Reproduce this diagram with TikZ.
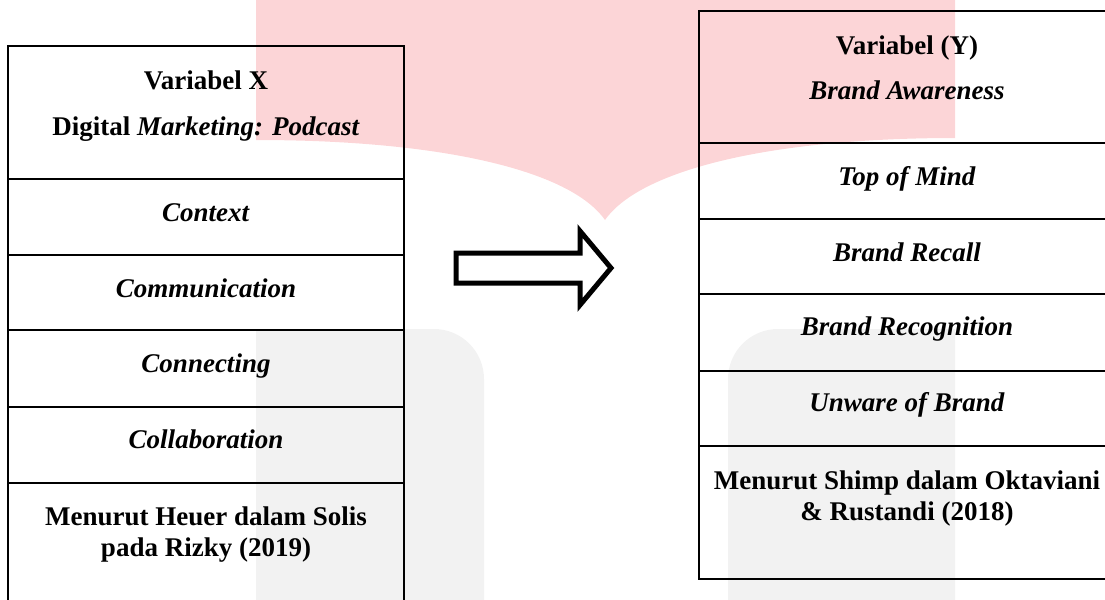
\documentclass[tikz,border=0pt]{standalone}
\usepackage{fontspec}
\setmainfont{Liberation Serif}
\usetikzlibrary{fit}
\definecolor{wmpink}{RGB}{252,213,215}
\definecolor{wmgray}{RGB}{242,242,242}
\begin{document}
\begin{tikzpicture}[x=0.5pt,y=-0.5pt,
  cell/.style={draw, line width=1pt, inner sep=0pt, outer sep=0pt, rectangle},
  tx/.style={font=\fontsize{13.5}{15.5}\selectfont\bfseries, inner sep=0pt, anchor=base, align=center},
  blockarrow/.style={draw, line width=2.5pt, line join=miter}]
\useasboundingbox (0,0) rectangle (1105,600);
\clip (0,0) rectangle (1105,600);
% watermark
\fill[wmpink] (256,0) -- (955,0) -- (955,138) .. controls (770,138) and (640,170) .. (605,220) .. controls (570,170) and (440,140) .. (256,140) -- cycle;
\fill[wmgray] (256,610) -- (256,329) -- (434,329) .. controls (461.6,329) and (484,351.4) .. (484,379) -- (484,610) -- cycle;
\fill[wmgray] (955,610) -- (955,329) -- (778,329) .. controls (750.4,329) and (728,351.4) .. (728,379) -- (728,610) -- cycle;
% left table
\node[cell, fit={(8,46) (404,178.5)}] (lh) {};
\node[cell, fit={(8,178.5) (404,254.5)}] (l1) {};
\node[cell, fit={(8,254.5) (404,330)}] (l2) {};
\node[cell, fit={(8,330) (404,406.5)}] (l3) {};
\node[cell, fit={(8,406.5) (404,483)}] (l4) {};
\node[cell, fit={(8,483) (404,620)}] (l5) {};
% right table
\node[cell, fit={(699,10.7) (1115,143)}] (rh) {};
\node[cell, fit={(699,143) (1115,219)}] (r1) {};
\node[cell, fit={(699,219) (1115,293.5)}] (r2) {};
\node[cell, fit={(699,293.5) (1115,370.5)}] (r3) {};
\node[cell, fit={(699,370.5) (1115,446)}] (r4) {};
\node[cell, fit={(699,446) (1115,578.6)}] (r5) {};
% left texts
\node[tx] (tlh1) at (206,89) {Variabel X};
\node[tx] (tlh2) at (206,135) {Digital \textit{Marketing: Podcast}};
\node[tx] (tl1) at (206,221) {\textit{Context}};
\node[tx] (tl2) at (206,297) {\textit{Communication}};
\node[tx] (tl3) at (206,372) {\textit{Connecting}};
\node[tx] (tl4) at (206,448.5) {\textit{Collaboration}};
\node[tx] (tl5a) at (206,525) {Menurut Heuer dalam Solis};
\node[tx] (tl5b) at (206,556) {pada Rizky (2019)};
% right texts
\node[tx] (trh1) at (907,54) {Variabel (Y)};
\node[tx] (trh2) at (907,99.5) {\textit{Brand Awareness}};
\node[tx] (tr1) at (907,185) {\textit{Top of Mind}};
\node[tx] (tr2) at (907,261) {\textit{Brand Recall}};
\node[tx] (tr3) at (907,335.5) {\textit{Brand Recognition}};
\node[tx] (tr4) at (907,411) {\textit{Unware of Brand}};
\node[tx] (tr5a) at (907,489) {Menurut Shimp dalam Oktaviani};
\node[tx] (tr5b) at (907,520) {\& Rustandi (2018)};
% block arrow
\draw[blockarrow] (456,253) -- (580,253) -- (580,231) -- (611,268) -- (580,305) -- (580,283) -- (456,283) -- cycle;
\end{tikzpicture}
\end{document}
